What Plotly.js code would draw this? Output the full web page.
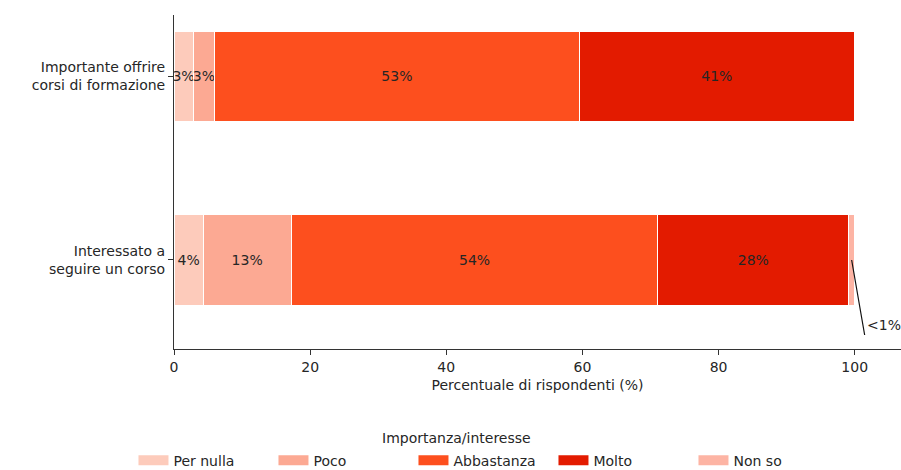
<!DOCTYPE html>
<html>
<head>
<meta charset="utf-8">
<script src="https://cdn.plot.ly/plotly-3.0.1.min.js"></script>
<style>html,body{margin:0;padding:0;background:#fff;}#chart{width:901px;height:470px;}</style>
</head>
<body>
<div id="chart"></div>
<script>
// Categories (bottom to top)
const categories = ["Interessato a<br>seguire un corso", "Importante offrire<br>corsi di formazione"];
const seriesNames = ["Per nulla", "Poco", "Abbastanza", "Molto", "Non so"];
const perNulla   = [4.3, 2.8];
const poco       = [12.9, 3.2];
const abbastanza = [53.9, 53.5];
const molto      = [28.0, 40.5];
const nonSo      = [0.9, 0.0];
const labelsPerNulla   = ["4%", "3%"];
const labelsPoco       = ["13%", "3%"];
const labelsAbbastanza = ["54%", "53%"];
const labelsMolto      = ["28%", "41%"];
const labelsNonSo      = ["", ""];
const xTickVals = [0, 20, 40, 60, 80, 100];
const legendTitle = "Importanza/interesse";
const smallLabel = "<1%";
const colors = ["#fdcbbb", "#fca993", "#fd4f1e", "#e31b00", "#fdb4a4"];

const values = [perNulla, poco, abbastanza, molto, nonSo];
const labels = [labelsPerNulla, labelsPoco, labelsAbbastanza, labelsMolto, labelsNonSo];

const font = {family: "DejaVu Sans", size: 14, color: "#262626"};

const barTraces = seriesNames.map((name, i) => ({
  type: "bar",
  orientation: "h",
  name: name,
  legendgroup: name,
  showlegend: false,
  y: categories,
  x: values[i],
  text: labels[i],
  textposition: "inside",
  insidetextanchor: "middle",
  constraintext: "none",
  textangle: 0,
  textfont: {family: "DejaVu Sans", size: 14, color: "#262626"},
  width: 0.49,
  marker: {color: colors[i], line: {color: "#ffffff", width: 1}},
  hoverinfo: "x+name"
}));

// legend entries drawn as wide swatches (no data points of their own)
const legendTraces = seriesNames.map((name, i) => ({
  type: "scatter",
  mode: "lines",
  name: name,
  legendgroup: name,
  showlegend: true,
  x: [null],
  y: [null],
  line: {color: colors[i], width: 10},
  hoverinfo: "skip"
}));

const layout = {
  width: 901,
  height: 470,
  barmode: "stack",
  margin: {l: 174, r: 0, t: 15, b: 121},
  paper_bgcolor: "#ffffff",
  plot_bgcolor: "#ffffff",
  font: font,
  showlegend: true,
  xaxis: {
    range: [0, 106.8],
    tickvals: xTickVals,
    ticks: "outside",
    ticklen: 5,
    tickcolor: "#333",
    showline: true,
    linecolor: "#333",
    linewidth: 1,
    showgrid: false,
    zeroline: false,
    tickfont: font,
    title: {text: "Percentuale di rispondenti (%)", font: font, standoff: 6}
  },
  yaxis: {
    type: "category",
    range: [-0.484, 1.332],
    ticks: "outside",
    ticklen: 5,
    tickcolor: "#333",
    showline: true,
    linecolor: "#333",
    linewidth: 1,
    showgrid: false,
    zeroline: false,
    tickfont: font
  },
  legend: {
    orientation: "h",
    x: 0.5366,
    xref: "container",
    xanchor: "center",
    y: 0.054,
    yref: "container",
    yanchor: "top",
    entrywidth: 95,
    entrywidthmode: "pixels",
    font: font,
    traceorder: "normal"
  },
  annotations: [{
    x: 99.55,
    y: categories[0],
    xref: "x",
    yref: "y",
    text: smallLabel.replace("<", "&lt;"),
    showarrow: true,
    arrowhead: 0,
    arrowwidth: 1.2,
    arrowcolor: "#111",
    ax: 13,
    ay: 75,
    xanchor: "left",
    yanchor: "bottom",
    standoff: 0,
    font: font
  }, {
    x: 0.388,
    y: -0.2665,
    xref: "paper",
    yref: "paper",
    xanchor: "center",
    yanchor: "middle",
    showarrow: false,
    text: legendTitle,
    font: font
  }]
};

Plotly.newPlot("chart", barTraces.concat(legendTraces), layout, {displayModeBar: false, staticPlot: true});
</script>
</body>
</html>
